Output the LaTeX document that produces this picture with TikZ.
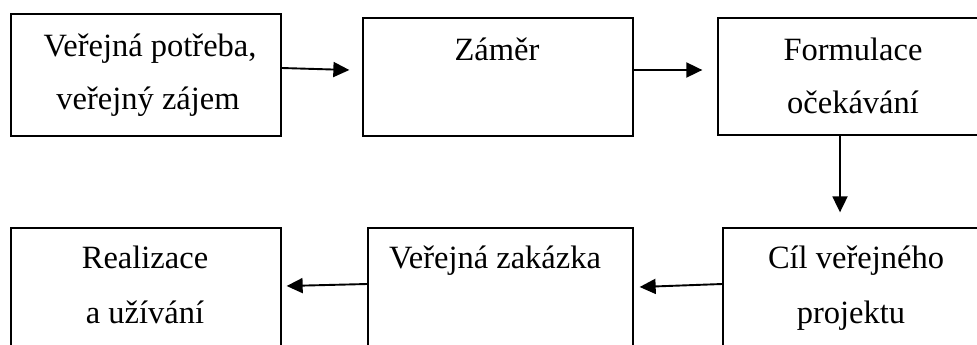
\documentclass[tikz,border=0pt]{standalone}
\usepackage{fontspec}
\setmainfont{Liberation Serif}
\usetikzlibrary{arrows.meta}
\begin{document}
\begin{tikzpicture}[x=1pt,y=-1pt,
  box/.style={draw=black,line width=1.3pt,minimum width=#1,inner sep=0pt},
  box/.default=270pt,
  lbl/.style={anchor=base,inner sep=0pt,font=\fontsize{32.5}{38}\selectfont},
  arr/.style={line width=1.9pt,-{Triangle[length=16pt,width=15pt]}}]
\useasboundingbox (0,0) rectangle (977,345);
\clip (0,0) rectangle (977,345);
% boxes
\node[box,minimum height=122pt] (b1) at (146,75) {};
\node[box,minimum height=118pt] (b2) at (498,77) {};
\node[box,minimum height=117pt] (b3) at (853,76.5) {};
\node[box,minimum height=122pt] (b4) at (146,289) {};
\node[box=265pt,minimum height=122pt] (b5) at (500.5,289) {};
\node[box,minimum height=122pt] (b6) at (858,289) {};
% labels
\node[lbl] (t1a) at (150,57) {Veřejná potřeba,};
\node[lbl] (t1b) at (148,110) {veřejný zájem};
\node[lbl] (t2) at (497,61) {Záměr};
\node[lbl] (t3a) at (853,60) {Formulace};
\node[lbl] (t3b) at (853,113) {očekávání};
\node[lbl] (t4a) at (145,268) {Realizace};
\node[lbl] (t4b) at (145,323) {a užívání};
\node[lbl] (t5) at (495,268) {Veřejná zakázka};
\node[lbl] (t6a) at (856,268) {Cíl veřejného};
\node[lbl] (t6b) at (851,323) {projektu};
% arrows
\draw[arr] ([yshift=7pt]b1.east) -- ([xshift=-13pt,yshift=7pt]b2.west);
\draw[arr] ([yshift=7pt]b2.east) -- ([xshift=-15pt,yshift=6.5pt]b3.west);
\draw[arr] ([xshift=-13pt]b3.south) -- ([xshift=-18pt,yshift=15pt]b6.north);
\draw[arr] ([yshift=5pt]b6.west) -- ([xshift=6pt,yshift=2pt]b5.east);
\draw[arr] ([yshift=5pt]b5.west) -- ([xshift=5pt,yshift=3pt]b4.east);
\end{tikzpicture}
\end{document}
